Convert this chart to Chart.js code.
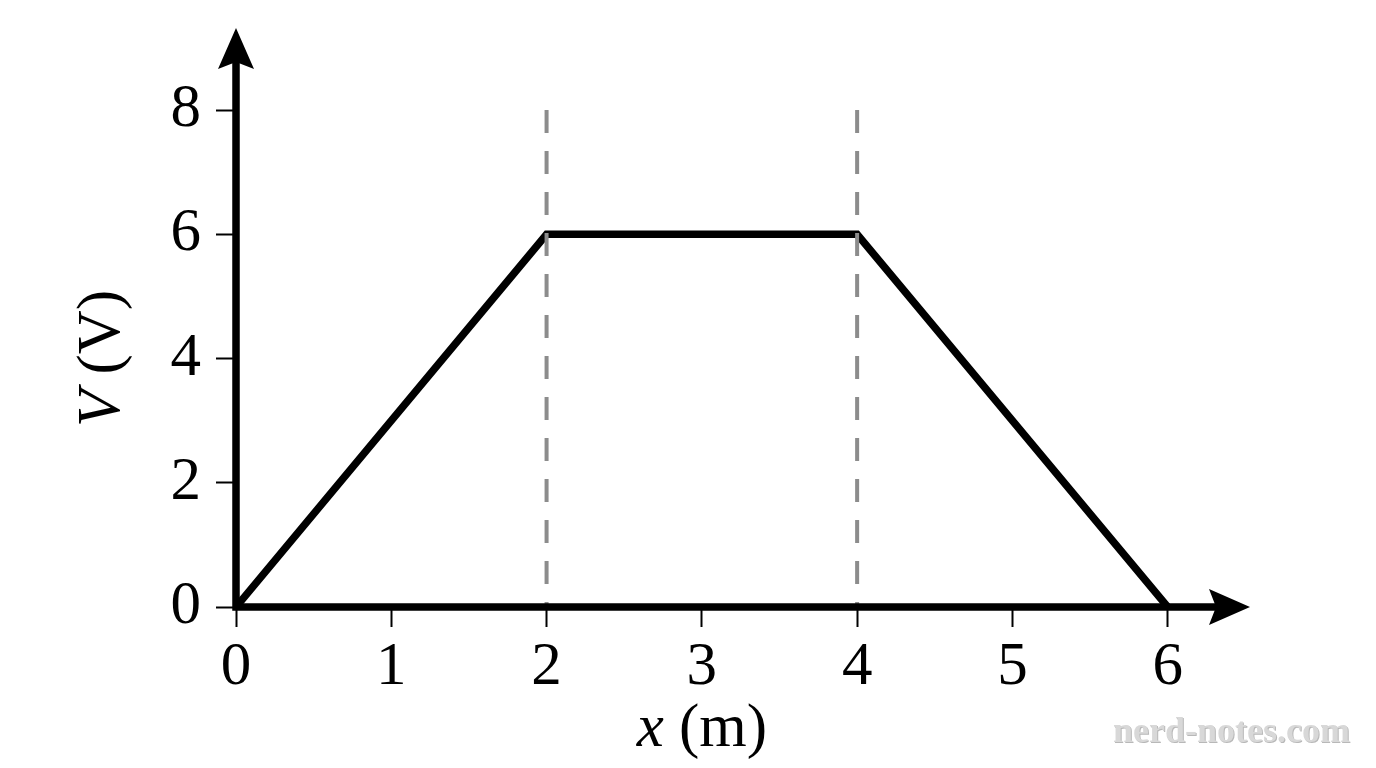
<!DOCTYPE html>
<html>
<head>
<meta charset="utf-8">
<script src="https://cdn.jsdelivr.net/npm/chart.js@4"></script>
<style>
  html, body { margin: 0; padding: 0; background: #fff; }
  #chart { display: block; }
</style>
</head>
<body>
<canvas id="chart" width="1376" height="768"></canvas>
<script>
// curve V(x)
var xVals = [0, 2, 4, 6];
var vVals = [0, 6, 6, 0];
// dashed markers at x = 2 and x = 4, up to V = 8
var markerX = [2, 4];
var markerTop = 8;
// ticks
var xTicks = [0, 1, 2, 3, 4, 5, 6];
var yTicks = [0, 2, 4, 6, 8];
// axis ends (where arrows point)
var xMax = 6.53;
var yMax = 9.32;

var serif = "'Liberation Serif', 'DejaVu Serif', serif";
var fontSize = 61;

var curve = xVals.map(function(x, i) { return {x: x, y: vVals[i]}; });

var datasets = [{
    data: curve,
    showLine: true,
    borderColor: '#000',
    borderWidth: 7.5,
    pointRadius: 0,
    borderJoinStyle: 'miter',
    order: 1
}];
markerX.forEach(function(mx) {
    // drawn top-down so the dash pattern starts at V = 8
    datasets.push({
        data: [{x: mx, y: markerTop}, {x: mx, y: 0}],
        showLine: true,
        borderColor: '#8c8c8c',
        borderWidth: 4,
        borderDash: [23, 18],
        pointRadius: 0,
        order: 0
    });
});

var axesPlugin = {
    id: 'axesArrows',
    afterDatasetsDraw: function(chart) {
        var ctx = chart.ctx;
        var xs = chart.scales.x, ys = chart.scales.y;
        var x0 = xs.getPixelForValue(0), y0 = ys.getPixelForValue(0);
        var xEnd = xs.getPixelForValue(xMax), yEnd = ys.getPixelForValue(yMax);
        ctx.save();
        ctx.strokeStyle = '#000';
        ctx.fillStyle = '#000';
        ctx.lineWidth = 7.5;
        ctx.lineCap = 'butt';
        ctx.beginPath();
        ctx.moveTo(x0, y0);
        ctx.lineTo(xEnd - 30, y0);
        ctx.moveTo(x0, y0 + 3.75);
        ctx.lineTo(x0, yEnd + 30);
        ctx.stroke();
        // x arrow
        ctx.beginPath();
        ctx.moveTo(xEnd, y0);
        ctx.lineTo(xEnd - 41, y0 - 18);
        ctx.lineTo(xEnd - 34, y0);
        ctx.lineTo(xEnd - 41, y0 + 18);
        ctx.closePath();
        ctx.fill();
        // y arrow
        ctx.beginPath();
        ctx.moveTo(x0, yEnd);
        ctx.lineTo(x0 - 18, yEnd + 41);
        ctx.lineTo(x0, yEnd + 34);
        ctx.lineTo(x0 + 18, yEnd + 41);
        ctx.closePath();
        ctx.fill();
        ctx.restore();
    },
    afterDraw: function(chart) {
        var ctx = chart.ctx;
        var xs = chart.scales.x, ys = chart.scales.y;
        ctx.save();
        ctx.fillStyle = '#000';
        ctx.textBaseline = 'alphabetic';
        ctx.textAlign = 'left';
        // x title: italic x + (m)
        var it = 'italic ' + fontSize + 'px ' + serif, up = fontSize + 'px ' + serif;
        ctx.font = it;
        var w1 = ctx.measureText('x').width;
        ctx.font = up;
        var w2 = ctx.measureText(' (m)').width;
        var cx = xs.getPixelForValue(3);
        var sx = cx - (w1 + w2) / 2;
        ctx.font = it;
        ctx.fillText('x', sx, 746);
        ctx.font = up;
        ctx.fillText(' (m)', sx + w1, 746);
        // y title: italic V + (V)
        ctx.font = it;
        var v1 = ctx.measureText('V').width;
        ctx.font = up;
        var v2 = ctx.measureText(' (V)').width;
        ctx.translate(119, ys.getPixelForValue(4));
        ctx.rotate(-Math.PI / 2);
        var sy = -(v1 + v2) / 2;
        ctx.font = it;
        ctx.fillText('V', sy, 0);
        ctx.font = up;
        ctx.fillText(' (V)', sy + v1, 0);
        ctx.restore();
        // watermark
        ctx.save();
        ctx.font = 'bold 36px ' + serif;
        ctx.textAlign = 'right';
        ctx.textBaseline = 'alphabetic';
        ctx.fillStyle = '#b8b8b8';
        ctx.fillText('nerd-notes.com', 1351, 743);
        ctx.fillStyle = '#d8d8d8';
        ctx.fillText('nerd-notes.com', 1350, 742);
        ctx.restore();
    }
};

var chart = new Chart(document.getElementById('chart'), {
    type: 'scatter',
    data: { datasets: datasets },
    options: {
        responsive: false,
        animation: false,
        devicePixelRatio: 1,
        layout: { padding: { left: 0, right: 126, top: 28, bottom: 0 } },
        plugins: { legend: { display: false }, tooltip: { enabled: false } },
        scales: {
            x: {
                type: 'linear',
                min: 0,
                max: xMax,
                afterBuildTicks: function(scale) {
                    scale.ticks = xTicks.map(function(v) { return {value: v}; });
                },
                afterFit: function(scale) {
                    scale.height = 161;
                    scale.paddingLeft = 0;
                    scale.paddingRight = 0;
                },
                grid: { display: true, drawOnChartArea: false, drawTicks: true, tickLength: 20, tickWidth: 2, tickColor: '#000' },
                border: { display: false },
                ticks: { color: '#000', padding: 4, font: { family: serif, size: fontSize }, maxRotation: 0 }
            },
            y: {
                type: 'linear',
                min: 0,
                max: yMax,
                afterBuildTicks: function(scale) {
                    scale.ticks = yTicks.map(function(v) { return {value: v}; });
                },
                afterFit: function(scale) {
                    scale.width = 236;
                    scale.paddingTop = 0;
                    scale.paddingBottom = 0;
                },
                grid: { display: true, drawOnChartArea: false, drawTicks: true, tickLength: 20, tickWidth: 2, tickColor: '#000' },
                border: { display: false },
                ticks: { color: '#000', padding: 15, font: { family: serif, size: fontSize } }
            }
        }
    },
    plugins: [axesPlugin]
});
</script>
</body>
</html>
